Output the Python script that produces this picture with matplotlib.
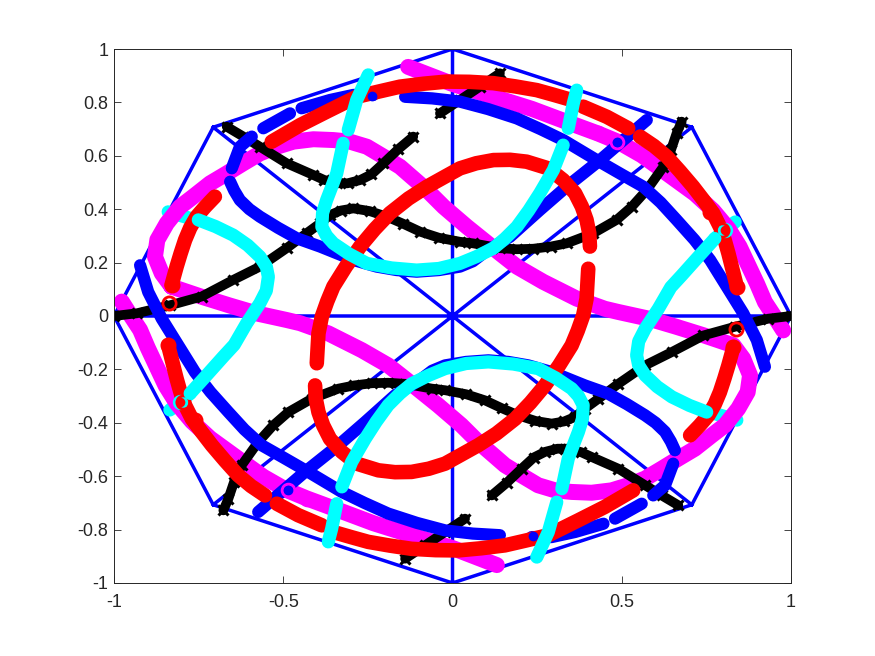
import matplotlib
matplotlib.use("Agg")
import matplotlib.pyplot as plt

plt.rcParams['font.family'] = ['Liberation Sans', 'DejaVu Sans']

TICK_X = [-1, -0.5, 0, 0.5, 1]
TICK_X_LABELS = ['-1', '-0.5', '0', '0.5', '1']
TICK_Y = [-1, -0.8, -0.6, -0.4, -0.2, 0, 0.2, 0.4, 0.6, 0.8, 1]
TICK_Y_LABELS = ['-1', '-0.8', '-0.6', '-0.4', '-0.2', '0', '0.2', '0.4', '0.6', '0.8', '1']

frame_x = [1, 0.707, 0, -0.707, -1, -0.707, 0, 0.707, 1, -1, None, 0, 0, None, -0.707, 0.707, None, -0.707, 0.707]
frame_y = [0, 0.707, 1, 0.707, 0, -0.707, -1, -0.707, 0, 0, None, -1, 1, None, 0.707, -0.707, None, -0.707, 0.707]

# magenta
mag_loop_x = [-0.83, -0.741, -0.66, -0.58, -0.49, -0.45, -0.367, -0.268, -0.19, -0.14, -0.091, -0.042, 0.026, 0.076, 0.116, 0.155, 0.204, 0.253, 0.303, 0.352, 0.411, 0.47, 0.519, 0.569, 0.618, 0.667, 0.716, 0.766, 0.805, 0.844, 0.872, 0.879, 0.859, 0.83,
              0.741, 0.66, 0.58, 0.49, 0.45, 0.367, 0.268, 0.19, 0.14, 0.091, 0.042, -0.026, -0.076, -0.116, -0.155, -0.204, -0.253, -0.303, -0.352, -0.411, -0.47, -0.519, -0.569, -0.618, -0.667, -0.716, -0.766, -0.805, -0.844, -0.872, -0.879, -0.859, -0.83]
mag_loop_y = [0.11, 0.072, 0.04, 0.01, -0.015, -0.027, -0.065, -0.128, -0.185, -0.235, -0.285, -0.335, -0.409, -0.472, -0.516, -0.559, -0.597, -0.634, -0.653, -0.659, -0.662, -0.653, -0.634, -0.609, -0.572, -0.534, -0.497, -0.447, -0.409, -0.347, -0.285, -0.222, -0.16, -0.11,
              -0.072, -0.04, -0.01, 0.015, 0.027, 0.065, 0.128, 0.185, 0.235, 0.285, 0.335, 0.409, 0.472, 0.516, 0.559, 0.597, 0.634, 0.653, 0.659, 0.662, 0.653, 0.634, 0.609, 0.572, 0.534, 0.497, 0.447, 0.409, 0.347, 0.285, 0.222, 0.16, 0.11]
mag_low_x = [-0.977, -0.95, -0.923, -0.9, -0.874, -0.848, -0.815, -0.77, -0.716, -0.628, -0.559, -0.49, -0.431, -0.352, -0.234, -0.106, 0.002, 0.131]
mag_low_y = [0.054, 0.0, -0.052, -0.12, -0.19, -0.26, -0.327, -0.395, -0.458, -0.539, -0.602, -0.652, -0.683, -0.72, -0.776, -0.827, -0.87, -0.933]
mag_up_x = [0.977, 0.95, 0.923, 0.9, 0.874, 0.848, 0.815, 0.77, 0.716, 0.628, 0.559, 0.49, 0.431, 0.352, 0.234, 0.106, -0.002, -0.131]
mag_up_y = [-0.054, 0.0, 0.052, 0.12, 0.19, 0.26, 0.327, 0.395, 0.458, 0.539, 0.602, 0.652, 0.683, 0.72, 0.776, 0.827, 0.87, 0.933]

# black
blk_long_a_x = [-1.0, -0.933, -0.835, -0.741, -0.648, -0.569, -0.49, -0.431, -0.391, -0.362, -0.33, -0.293, -0.245, -0.194, -0.145, -0.096, -0.04, 0.022, 0.061, 0.14, 0.19, 0.239, 0.29, 0.337, 0.416, 0.485, 0.53, 0.574, 0.623, 0.645, 0.662, 0.677]
blk_long_a_y = [0.0, 0.01, 0.04, 0.073, 0.135, 0.185, 0.254, 0.31, 0.347, 0.378, 0.395, 0.403, 0.393, 0.372, 0.345, 0.316, 0.293, 0.278, 0.272, 0.254, 0.25, 0.252, 0.26, 0.272, 0.31, 0.36, 0.41, 0.472, 0.559, 0.62, 0.684, 0.728]
blk_long_b_x = [1.0, 0.933, 0.835, 0.741, 0.648, 0.569, 0.49, 0.431, 0.391, 0.362, 0.33, 0.293, 0.245, 0.194, 0.145, 0.096, 0.04, -0.022, -0.061, -0.14, -0.19, -0.239, -0.29, -0.337, -0.416, -0.485, -0.53, -0.574, -0.623, -0.645, -0.662, -0.677]
blk_long_b_y = [0.0, -0.01, -0.04, -0.073, -0.135, -0.185, -0.254, -0.31, -0.347, -0.378, -0.395, -0.403, -0.393, -0.372, -0.345, -0.316, -0.293, -0.278, -0.272, -0.254, -0.25, -0.252, -0.26, -0.272, -0.31, -0.36, -0.41, -0.472, -0.559, -0.62, -0.684, -0.728]
blk_wave_a_x = [-0.116, -0.16, -0.204, -0.24, -0.273, -0.31, -0.342, -0.38, -0.411, -0.49, -0.569, -0.618, -0.667]
blk_wave_a_y = [0.672, 0.625, 0.572, 0.53, 0.509, 0.497, 0.497, 0.51, 0.528, 0.572, 0.634, 0.672, 0.709]
blk_wave_b_x = [0.116, 0.16, 0.204, 0.24, 0.273, 0.31, 0.342, 0.38, 0.411, 0.49, 0.569, 0.618, 0.667]
blk_wave_b_y = [-0.672, -0.625, -0.572, -0.53, -0.509, -0.497, -0.497, -0.51, -0.528, -0.572, -0.634, -0.672, -0.709]
blk_short_a_x = [-0.037, 0.022, 0.081, 0.14]
blk_short_a_y = [0.759, 0.809, 0.859, 0.909]
blk_short_b_x = [0.037, -0.022, -0.081, -0.14]
blk_short_b_y = [-0.759, -0.809, -0.859, -0.909]

# blue
blu_a1_x = [-0.657, -0.645, -0.628, -0.6, -0.569, -0.515, -0.46, -0.391, -0.293, -0.224, -0.165, -0.106, -0.04, 0.022, 0.06, 0.091, 0.17, 0.258, 0.337, 0.436, 0.574]
blu_a1_y = [0.503, 0.47, 0.434, 0.4, 0.372, 0.33, 0.291, 0.26, 0.21, 0.185, 0.172, 0.166, 0.172, 0.185, 0.205, 0.235, 0.297, 0.397, 0.484, 0.584, 0.734]
blu_a2_x = [0.657, 0.645, 0.628, 0.6, 0.569, 0.515, 0.46, 0.391, 0.293, 0.224, 0.165, 0.106, 0.04, -0.022, -0.06, -0.091, -0.17, -0.258, -0.337, -0.436, -0.574]
blu_a2_y = [-0.503, -0.47, -0.434, -0.4, -0.372, -0.33, -0.291, -0.26, -0.21, -0.185, -0.172, -0.166, -0.172, -0.185, -0.205, -0.235, -0.297, -0.397, -0.484, -0.584, -0.734]
blu_b1_x = [-0.652, -0.628, -0.593]
blu_b1_y = [0.553, 0.634, 0.672]
blu_b2_x = [0.652, 0.628, 0.593]
blu_b2_y = [-0.553, -0.634, -0.672]
blu_c1_x = [-0.559, -0.48]
blu_c1_y = [0.703, 0.759]
blu_c2_x = [0.559, 0.48]
blu_c2_y = [-0.703, -0.759]
blu_d1_x = [-0.446, -0.362, -0.293, -0.234]
blu_d1_y = [0.778, 0.809, 0.828, 0.828]
blu_d2_x = [0.446, 0.362, 0.293, 0.234]
blu_d2_y = [-0.778, -0.809, -0.828, -0.828]
blu_e1_x = [-0.14, -0.06, 0.022, 0.105, 0.19, 0.26, 0.327, 0.426, 0.5, 0.564, 0.615, 0.662, 0.715, 0.761, 0.81, 0.859, 0.899, 0.923]
blu_e1_y = [0.821, 0.815, 0.803, 0.775, 0.74, 0.7, 0.659, 0.584, 0.53, 0.484, 0.425, 0.36, 0.285, 0.21, 0.11, 0.01, -0.09, -0.19]
blu_e2_x = [0.14, 0.06, -0.022, -0.105, -0.19, -0.26, -0.327, -0.426, -0.5, -0.564, -0.615, -0.662, -0.715, -0.761, -0.81, -0.859, -0.899, -0.923]
blu_e2_y = [-0.821, -0.815, -0.803, -0.775, -0.74, -0.7, -0.659, -0.584, -0.53, -0.484, -0.425, -0.36, -0.285, -0.21, -0.11, -0.01, 0.09, 0.19]

# red
red_a1_x = [-0.83, -0.815, -0.803, -0.79, -0.775, -0.756, -0.73, -0.702]
red_a1_y = [0.116, 0.185, 0.235, 0.285, 0.33, 0.372, 0.41, 0.447]
red_a2_x = [0.83, 0.815, 0.803, 0.79, 0.775, 0.756, 0.73, 0.702]
red_a2_y = [-0.116, -0.185, -0.235, -0.285, -0.33, -0.372, -0.41, -0.447]
red_b1_x = [-0.534, -0.45, -0.372, -0.283, -0.22, -0.155, -0.085, -0.017, 0.05, 0.121, 0.185, 0.249, 0.3, 0.352]
red_b1_y = [0.653, 0.715, 0.765, 0.821, 0.84, 0.859, 0.87, 0.878, 0.877, 0.872, 0.86, 0.846, 0.828, 0.809]
red_b2_x = [0.534, 0.45, 0.372, 0.283, 0.22, 0.155, 0.085, 0.017, -0.05, -0.121, -0.185, -0.249, -0.3, -0.352]
red_b2_y = [-0.653, -0.715, -0.765, -0.821, -0.84, -0.859, -0.87, -0.878, -0.877, -0.872, -0.86, -0.846, -0.828, -0.809]
red_c1_x = [0.386, 0.456, 0.519]
red_c1_y = [0.784, 0.746, 0.703]
red_c2_x = [-0.386, -0.456, -0.519]
red_c2_y = [-0.784, -0.746, -0.703]
red_d1_x = [0.554, 0.595, 0.633, 0.672, 0.711, 0.742, 0.77, 0.795, 0.805, 0.815, 0.84]
red_d1_y = [0.672, 0.637, 0.597, 0.542, 0.484, 0.433, 0.385, 0.322, 0.28, 0.235, 0.11]
red_d2_x = [-0.554, -0.595, -0.633, -0.672, -0.711, -0.742, -0.77, -0.795, -0.805, -0.815, -0.84]
red_d2_y = [-0.672, -0.637, -0.597, -0.542, -0.484, -0.433, -0.385, -0.322, -0.28, -0.235, -0.11]
red_in1_x = [-0.401, -0.396, -0.386, -0.37, -0.352, -0.315, -0.273, -0.23, -0.185, -0.13, -0.076, -0.025, 0.022, 0.07, 0.121, 0.17, 0.219, 0.283, 0.327, 0.362, 0.382, 0.396, 0.404, 0.406]
red_in1_y = [-0.177, -0.065, -0.002, 0.055, 0.11, 0.185, 0.26, 0.325, 0.385, 0.44, 0.484, 0.52, 0.553, 0.572, 0.584, 0.585, 0.578, 0.553, 0.509, 0.46, 0.41, 0.36, 0.31, 0.26]
red_in2_x = [0.401, 0.396, 0.386, 0.37, 0.352, 0.315, 0.273, 0.23, 0.185, 0.13, 0.076, 0.025, -0.022, -0.07, -0.121, -0.17, -0.219, -0.283, -0.327, -0.362, -0.382, -0.396, -0.404, -0.406]
red_in2_y = [0.177, 0.065, 0.002, -0.055, -0.11, -0.185, -0.26, -0.325, -0.385, -0.44, -0.484, -0.52, -0.553, -0.572, -0.584, -0.585, -0.578, -0.553, -0.509, -0.46, -0.41, -0.36, -0.31, -0.26]

# cyan
cy_stub_a_x = [-0.84, -0.76]
cy_stub_a_y = [0.39, 0.36]
cy_stub_b_x = [-0.835, -0.775]
cy_stub_b_y = [-0.352, -0.29]
cy_stub_c_x = [0.84, 0.76]
cy_stub_c_y = [-0.39, -0.36]
cy_stub_d_x = [0.835, 0.775]
cy_stub_d_y = [0.352, 0.29]
cy_side1_x = [-0.751, -0.7, -0.648, -0.605, -0.569, -0.55, -0.544, -0.55, -0.569, -0.608, -0.645, -0.677, -0.725, -0.775]
cy_side1_y = [0.36, 0.335, 0.303, 0.265, 0.222, 0.185, 0.147, 0.095, 0.048, -0.027, -0.108, -0.152, -0.22, -0.29]
cy_side2_x = [0.751, 0.7, 0.648, 0.605, 0.569, 0.55, 0.544, 0.55, 0.569, 0.608, 0.645, 0.677, 0.725, 0.775]
cy_side2_y = [-0.36, -0.335, -0.303, -0.265, -0.222, -0.185, -0.147, -0.095, -0.048, 0.027, 0.108, 0.152, 0.22, 0.29]
cy_top1_x = [-0.249, -0.283, -0.308]
cy_top1_y = [0.903, 0.809, 0.697]
cy_top2_x = [-0.323, -0.342, -0.358, -0.372, -0.384, -0.386, -0.372, -0.352, -0.305, -0.253, -0.18, -0.106, -0.04, 0.022, 0.07, 0.121, 0.155, 0.19, 0.225, 0.258, 0.298, 0.327]
cy_top2_y = [0.647, 0.534, 0.48, 0.434, 0.385, 0.334, 0.3, 0.272, 0.232, 0.197, 0.18, 0.172, 0.178, 0.197, 0.222, 0.254, 0.29, 0.334, 0.395, 0.46, 0.547, 0.64]
cy_top3_x = [0.342, 0.357, 0.367]
cy_top3_y = [0.703, 0.797, 0.846]
cy_bot1_x = [0.249, 0.283, 0.308]
cy_bot1_y = [-0.903, -0.809, -0.697]
cy_bot2_x = [0.323, 0.342, 0.358, 0.372, 0.384, 0.386, 0.372, 0.352, 0.305, 0.253, 0.18, 0.106, 0.04, -0.022, -0.07, -0.121, -0.155, -0.19, -0.225, -0.258, -0.298, -0.327]
cy_bot2_y = [-0.647, -0.534, -0.48, -0.434, -0.385, -0.334, -0.3, -0.272, -0.232, -0.197, -0.18, -0.172, -0.178, -0.197, -0.222, -0.254, -0.29, -0.334, -0.395, -0.46, -0.547, -0.64]
cy_bot3_x = [-0.342, -0.357, -0.367]
cy_bot3_y = [-0.703, -0.797, -0.846]

# open markers visible at segment ends
red_ring_x = [-0.837, -0.83, 0.84, 0.795, 0.761, 0.837, 0.83, -0.84, -0.795, -0.761]
red_ring_y = [0.048, 0.116, 0.11, 0.322, 0.39, -0.048, -0.116, -0.11, -0.322, -0.39]
mag_ring_x = [0.485, 0.43, -0.485, -0.43]
mag_ring_y = [0.653, 0.685, -0.653, -0.685]
cy_ring_x = [0.805, -0.805]
cy_ring_y = [0.322, -0.322]
blue_dot_x = [0.485, -0.239, -0.485, 0.239]
blue_dot_y = [0.653, 0.824, -0.653, -0.824]

BLUE, RED, MAG, CY, BLK = '#0000ff', '#ff0000', '#ff00ff', '#00ffff', '#000000'

fig = plt.figure(figsize=(8.75, 6.56), dpi=100)
ax = fig.add_axes([0.1303, 0.1113, 0.7737, 0.814])


def band(x, y, color, width, z, marker=None):
    kw = dict(color=color, lw=width, zorder=z, solid_capstyle='round', solid_joinstyle='round')
    if marker:
        kw.update(marker=marker, ms=7, mew=2.2, mec=color)
    ax.plot(x, y, **kw)


fx = [float('nan') if v is None else v for v in frame_x]
fy = [float('nan') if v is None else v for v in frame_y]
ax.plot(fx, fy, color=BLUE, lw=2.5, zorder=2, solid_joinstyle='miter')

for x, y in [(cy_stub_a_x, cy_stub_a_y), (cy_stub_b_x, cy_stub_b_y),
             (cy_stub_c_x, cy_stub_c_y), (cy_stub_d_x, cy_stub_d_y)]:
    band(x, y, CY, 9.5, 2.5)

for x, y in [(mag_loop_x, mag_loop_y), (mag_low_x, mag_low_y), (mag_up_x, mag_up_y)]:
    band(x, y, MAG, 11.5, 3)

for x, y in [(blk_long_a_x, blk_long_a_y), (blk_long_b_x, blk_long_b_y),
             (blk_wave_a_x, blk_wave_a_y), (blk_wave_b_x, blk_wave_b_y),
             (blk_short_a_x, blk_short_a_y), (blk_short_b_x, blk_short_b_y)]:
    band(x, y, BLK, 7, 4, marker='x')

for x, y in [(blu_a1_x, blu_a1_y), (blu_a2_x, blu_a2_y), (blu_b1_x, blu_b1_y), (blu_b2_x, blu_b2_y),
             (blu_c1_x, blu_c1_y), (blu_c2_x, blu_c2_y), (blu_d1_x, blu_d1_y), (blu_d2_x, blu_d2_y),
             (blu_e1_x, blu_e1_y), (blu_e2_x, blu_e2_y)]:
    band(x, y, BLUE, 8.8, 5)

for x, y in [(red_a1_x, red_a1_y), (red_a2_x, red_a2_y), (red_b1_x, red_b1_y), (red_b2_x, red_b2_y),
             (red_c1_x, red_c1_y), (red_c2_x, red_c2_y), (red_d1_x, red_d1_y), (red_d2_x, red_d2_y),
             (red_in1_x, red_in1_y), (red_in2_x, red_in2_y)]:
    band(x, y, RED, 10.5, 6)

for x, y in [(cy_side1_x, cy_side1_y), (cy_side2_x, cy_side2_y), (cy_top1_x, cy_top1_y),
             (cy_top2_x, cy_top2_y), (cy_top3_x, cy_top3_y), (cy_bot1_x, cy_bot1_y),
             (cy_bot2_x, cy_bot2_y), (cy_bot3_x, cy_bot3_y)]:
    band(x, y, CY, 9.5, 7)

ax.plot(blue_dot_x, blue_dot_y, 'o', color=BLUE, ms=6, zorder=6.6)
ax.plot(mag_ring_x, mag_ring_y, 'o', mfc='none', mec=MAG, ms=9, mew=2.2, zorder=6.5)
ax.plot(cy_ring_x, cy_ring_y, 'o', mfc='none', mec=CY, ms=9, mew=2, zorder=6.7)
ax.plot(red_ring_x, red_ring_y, 'o', mfc='none', mec=RED, ms=9.5, mew=2, zorder=6.8)

ax.set_xlim(-1, 1)
ax.set_ylim(-1, 1)
ax.set_xticks(TICK_X, TICK_X_LABELS)
ax.set_yticks(TICK_Y, TICK_Y_LABELS)
ax.tick_params(direction='in', length=5, width=0.6, top=True, right=True, labelsize=13,
               color='#262626', labelcolor='#262626', pad=4)
ax.tick_params(axis='x', pad=8)
for s in ax.spines.values():
    s.set_linewidth(0.7)
    s.set_color('#262626')
    s.set_zorder(10)

fig.savefig('out.png', dpi=100)
